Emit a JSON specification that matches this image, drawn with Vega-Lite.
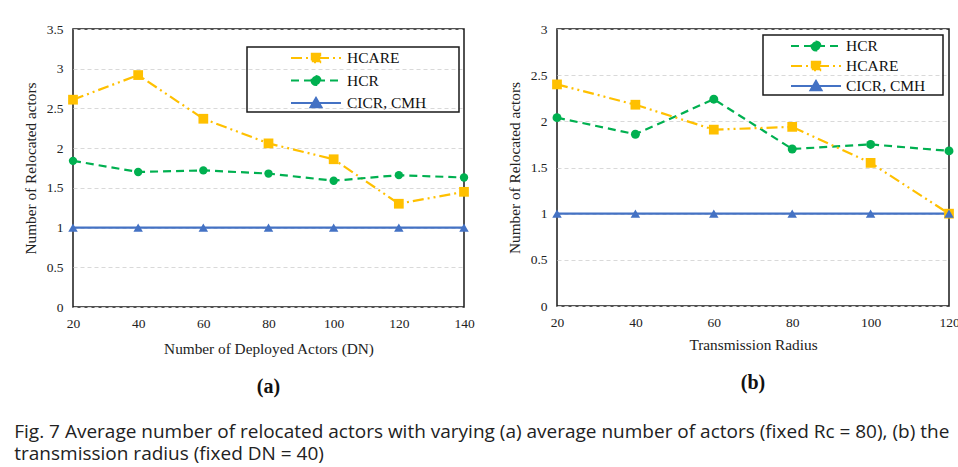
{
  "$schema": "https://vega.github.io/schema/vega-lite/v6.json",
  "padding": {"left": 14, "top": 21, "right": 0, "bottom": 2},
  "background": "white",
  "datasets": {
    "a": [
      {"x": 20, "y": 2.61, "series": "HCARE"}, {"x": 40, "y": 2.92, "series": "HCARE"}, {"x": 60, "y": 2.37, "series": "HCARE"}, {"x": 80, "y": 2.06, "series": "HCARE"}, {"x": 100, "y": 1.86, "series": "HCARE"}, {"x": 120, "y": 1.3, "series": "HCARE"}, {"x": 140, "y": 1.45, "series": "HCARE"},
      {"x": 20, "y": 1.84, "series": "HCR"}, {"x": 40, "y": 1.7, "series": "HCR"}, {"x": 60, "y": 1.72, "series": "HCR"}, {"x": 80, "y": 1.68, "series": "HCR"}, {"x": 100, "y": 1.59, "series": "HCR"}, {"x": 120, "y": 1.66, "series": "HCR"}, {"x": 140, "y": 1.63, "series": "HCR"},
      {"x": 20, "y": 1, "series": "CICR, CMH"}, {"x": 40, "y": 1, "series": "CICR, CMH"}, {"x": 60, "y": 1, "series": "CICR, CMH"}, {"x": 80, "y": 1, "series": "CICR, CMH"}, {"x": 100, "y": 1, "series": "CICR, CMH"}, {"x": 120, "y": 1, "series": "CICR, CMH"}, {"x": 140, "y": 1, "series": "CICR, CMH"}
    ],
    "b": [
      {"x": 20, "y": 2.04, "series": "HCR"}, {"x": 40, "y": 1.86, "series": "HCR"}, {"x": 60, "y": 2.24, "series": "HCR"}, {"x": 80, "y": 1.7, "series": "HCR"}, {"x": 100, "y": 1.75, "series": "HCR"}, {"x": 120, "y": 1.68, "series": "HCR"},
      {"x": 20, "y": 2.4, "series": "HCARE"}, {"x": 40, "y": 2.18, "series": "HCARE"}, {"x": 60, "y": 1.91, "series": "HCARE"}, {"x": 80, "y": 1.94, "series": "HCARE"}, {"x": 100, "y": 1.55, "series": "HCARE"}, {"x": 120, "y": 1.0, "series": "HCARE"},
      {"x": 20, "y": 1, "series": "CICR, CMH"}, {"x": 40, "y": 1, "series": "CICR, CMH"}, {"x": 60, "y": 1, "series": "CICR, CMH"}, {"x": 80, "y": 1, "series": "CICR, CMH"}, {"x": 100, "y": 1, "series": "CICR, CMH"}, {"x": 120, "y": 1, "series": "CICR, CMH"}
    ]
  },
  "title": {
    "text": ["Fig. 7 Average number of relocated actors with varying (a) average number of actors (fixed Rc = 80), (b) the", "transmission radius (fixed DN = 40)"],
    "orient": "bottom", "anchor": "start", "frame": "bounds", "dx": -8, "offset": 25,
    "font": "Open Sans", "fontSize": 19, "fontWeight": "normal", "lineHeight": 22, "color": "#222"
  },
  "hconcat": [
    {
      "width": 391, "height": 278,
      "data": {"name": "a"},
      "title": {"text": "(a)", "orient": "bottom", "font": "Liberation Serif", "fontSize": 20, "fontWeight": "bold", "offset": 20, "color": "#111"},
      "encoding": {
        "x": {"field": "x", "type": "quantitative", "scale": {"domain": [20, 140], "nice": false, "zero": false}, "axis": {"values": [20, 40, 60, 80, 100, 120, 140], "title": "Number of Deployed Actors (DN)"}},
        "y": {"field": "y", "type": "quantitative", "scale": {"domain": [0, 3.5], "nice": false}, "axis": {"values": [0, 0.5, 1, 1.5, 2, 2.5, 3, 3.5], "format": "~g", "title": "Number of Relocated actors"}}
      },
      "layer": [
        {
          "transform": [{"filter": "false"}],
          "mark": {"type": "point", "filled": true, "opacity": 1, "strokeWidth": 2},
          "encoding": {
            "fill": {"field": "series", "type": "nominal", "scale": {"domain": ["HCARE", "HCR", "CICR, CMH"], "range": ["#FFC000", "#00B050", "#4472C4"]}, "legend": {"orient": "none", "legendX": 174, "legendY": 18, "rowPadding": 2.5, "symbolOffset": 58, "labelOffset": 20, "labelFont": "Liberation Serif"}},
            "stroke": {"field": "series", "type": "nominal", "scale": {"domain": ["HCARE", "HCR", "CICR, CMH"], "range": ["#FFC000", "#00B050", "#4472C4"]}, "legend": {"orient": "none", "legendX": 174, "legendY": 18, "rowPadding": 2.5, "symbolOffset": 58, "labelOffset": 20, "labelFont": "Liberation Serif"}},
            "strokeDash": {"field": "series", "type": "nominal", "scale": {"domain": ["HCARE", "HCR", "CICR, CMH"], "range": [[11, 4, 2, 4, 2, 4], [8, 5], [1, 0]]}, "legend": {"orient": "none", "legendX": 174, "legendY": 18, "rowPadding": 2.5, "symbolOffset": 58, "labelOffset": 20, "labelFont": "Liberation Serif"}},
            "shape": {"field": "series", "type": "nominal", "scale": {"domain": ["HCARE", "HCR", "CICR, CMH"], "range": [
              "M13.9,0L13.9,0M-2.5,0H2.5M-0.42,-0.42H0.42V0.42H-0.42Z",
              "M13.9,0L13.9,0M-2.5,0H2.5M-0.45,0A0.45,0.45,0,1,0,0.45,0A0.45,0.45,0,1,0,-0.45,0Z",
              "M13.9,0L13.9,0M-2.5,0H2.5M0,-0.5L0.55,0.42H-0.55Z"
            ]}, "legend": {"orient": "none", "legendX": 174, "legendY": 18, "rowPadding": 2.5, "symbolOffset": 58, "labelOffset": 20, "labelFont": "Liberation Serif"}}
          }
        },
        {
          "mark": {"type": "line", "strokeWidth": 2.2},
          "encoding": {
            "stroke": {"field": "series", "type": "nominal", "scale": {"domain": ["HCARE", "HCR", "CICR, CMH"], "range": ["#FFC000", "#00B050", "#4472C4"]}, "legend": {"orient": "none", "legendX": 174, "legendY": 18, "rowPadding": 2.5, "symbolOffset": 58, "labelOffset": 20, "labelFont": "Liberation Serif"}},
            "strokeDash": {"field": "series", "type": "nominal", "scale": {"domain": ["HCARE", "HCR", "CICR, CMH"], "range": [[11, 4, 2, 4, 2, 4], [8, 5], [1, 0]]}, "legend": {"orient": "none", "legendX": 174, "legendY": 18, "rowPadding": 2.5, "symbolOffset": 58, "labelOffset": 20, "labelFont": "Liberation Serif"}}
          }
        },
        {"transform": [{"filter": "datum.series === 'HCARE'"}], "mark": {"type": "point", "shape": "square", "filled": true, "opacity": 1, "size": 95, "color": "#FFC000"}},
        {"transform": [{"filter": "datum.series === 'HCR'"}], "mark": {"type": "point", "shape": "circle", "filled": true, "opacity": 1, "size": 70, "color": "#00B050"}},
        {"transform": [{"filter": "datum.series === 'CICR, CMH'"}], "mark": {"type": "point", "shape": "triangle-up", "filled": true, "opacity": 1, "size": 90, "color": "#4472C4"}}
      ]
    },
    {
      "width": 392, "height": 277,
      "data": {"name": "b"},
      "title": {"text": "(b)", "orient": "bottom", "font": "Liberation Serif", "fontSize": 20, "fontWeight": "bold", "offset": 20, "color": "#111"},
      "encoding": {
        "x": {"field": "x", "type": "quantitative", "scale": {"domain": [20, 120], "nice": false, "zero": false}, "axis": {"values": [20, 40, 60, 80, 100, 120], "title": "Transmission Radius", "titlePadding": 9}},
        "y": {"field": "y", "type": "quantitative", "scale": {"domain": [0, 3], "nice": false}, "axis": {"values": [0, 0.5, 1, 1.5, 2, 2.5, 3], "format": "~g", "title": "Number of Relocated actors"}}
      },
      "layer": [
        {
          "transform": [{"filter": "false"}],
          "mark": {"type": "point", "filled": true, "opacity": 1, "strokeWidth": 2},
          "encoding": {
            "fill": {"field": "series", "type": "nominal", "scale": {"domain": ["HCR", "HCARE", "CICR, CMH"], "range": ["#00B050", "#FFC000", "#4472C4"]}, "legend": {"orient": "none", "legendX": 206, "legendY": 6, "rowPadding": 0, "symbolOffset": 42, "labelOffset": 19, "labelFont": "Liberation Serif"}},
            "stroke": {"field": "series", "type": "nominal", "scale": {"domain": ["HCR", "HCARE", "CICR, CMH"], "range": ["#00B050", "#FFC000", "#4472C4"]}, "legend": {"orient": "none", "legendX": 206, "legendY": 6, "rowPadding": 0, "symbolOffset": 42, "labelOffset": 19, "labelFont": "Liberation Serif"}},
            "strokeDash": {"field": "series", "type": "nominal", "scale": {"domain": ["HCR", "HCARE", "CICR, CMH"], "range": [[8, 5], [11, 4, 2, 4, 2, 4], [1, 0]]}, "legend": {"orient": "none", "legendX": 206, "legendY": 6, "rowPadding": 0, "symbolOffset": 42, "labelOffset": 19, "labelFont": "Liberation Serif"}},
            "shape": {"field": "series", "type": "nominal", "scale": {"domain": ["HCR", "HCARE", "CICR, CMH"], "range": [
              "M12.3,0L12.3,0M-2.5,0H2.5M-0.45,0A0.45,0.45,0,1,0,0.45,0A0.45,0.45,0,1,0,-0.45,0Z",
              "M12.3,0L12.3,0M-2.5,0H2.5M-0.42,-0.42H0.42V0.42H-0.42Z",
              "M12.3,0L12.3,0M-2.5,0H2.5M0,-0.5L0.55,0.42H-0.55Z"
            ]}, "legend": {"orient": "none", "legendX": 206, "legendY": 6, "rowPadding": 0, "symbolOffset": 42, "labelOffset": 19, "labelFont": "Liberation Serif"}}
          }
        },
        {
          "mark": {"type": "line", "strokeWidth": 2.2},
          "encoding": {
            "stroke": {"field": "series", "type": "nominal", "scale": {"domain": ["HCR", "HCARE", "CICR, CMH"], "range": ["#00B050", "#FFC000", "#4472C4"]}, "legend": {"orient": "none", "legendX": 206, "legendY": 6, "rowPadding": 0, "symbolOffset": 42, "labelOffset": 19, "labelFont": "Liberation Serif"}},
            "strokeDash": {"field": "series", "type": "nominal", "scale": {"domain": ["HCR", "HCARE", "CICR, CMH"], "range": [[8, 5], [11, 4, 2, 4, 2, 4], [1, 0]]}, "legend": {"orient": "none", "legendX": 206, "legendY": 6, "rowPadding": 0, "symbolOffset": 42, "labelOffset": 19, "labelFont": "Liberation Serif"}}
          }
        },
        {"transform": [{"filter": "datum.series === 'HCARE'"}], "mark": {"type": "point", "shape": "square", "filled": true, "opacity": 1, "size": 95, "color": "#FFC000"}},
        {"transform": [{"filter": "datum.series === 'HCR'"}], "mark": {"type": "point", "shape": "circle", "filled": true, "opacity": 1, "size": 80, "color": "#00B050"}},
        {"transform": [{"filter": "datum.series === 'CICR, CMH'"}], "mark": {"type": "point", "shape": "triangle-up", "filled": true, "opacity": 1, "size": 90, "color": "#4472C4"}}
      ]
    }
  ],
  "spacing": 93,
  "bounds": "flush",
  "resolve": {"scale": {"fill": "independent", "stroke": "independent", "shape": "independent", "strokeDash": "independent"}},
  "config": {
    "font": "Liberation Serif",
    "view": {"stroke": "#1a1a1a", "strokeWidth": 1.5},
    "axis": {"labelFont": "Liberation Serif", "labelFontSize": 13.5, "labelColor": "#222", "titleFont": "Liberation Serif", "titleFontSize": 15.3, "titleFontWeight": "normal", "titleColor": "#222", "domain": false, "ticks": false, "gridColor": "#d9d9d9", "gridDash": [4, 3], "gridWidth": 1},
    "axisX": {"grid": false, "labelPadding": 9, "titlePadding": 12, "labelFlush": false},
    "axisY": {"labelPadding": 10, "titlePadding": 7, "minExtent": 28, "maxExtent": 28},
    "legend": {"labelFont": "Liberation Serif", "labelFontSize": 15.5, "labelColor": "#111", "strokeColor": "#1a1a1a", "strokeWidth": 1.5, "padding": 0, "symbolSize": 400, "symbolStrokeWidth": 2, "symbolOpacity": 1, "title": null}
  }
}
